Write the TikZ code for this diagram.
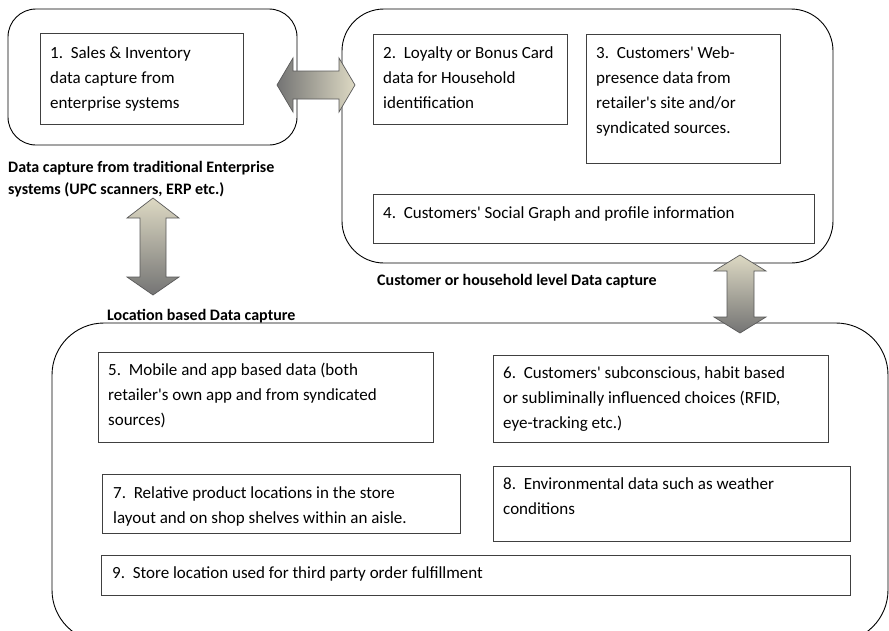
\documentclass[tikz,border=0pt]{standalone}
\usepackage{fontspec}
\setmainfont{Carlito}
\definecolor{beige}{HTML}{DDD9C3}
\definecolor{dgray}{HTML}{747474}
\definecolor{edge}{HTML}{404040}
\newcommand{\mylines}[1]{\parbox[t]{12cm}{\raggedright #1}}
\newcommand{\q}{\textquotesingle}
\begin{document}
\begin{tikzpicture}[x=1pt,y=-1pt,
  outer/.style={draw=black, line width=0.9pt, rounded corners=#1},
  inbox/.style={draw=edge, line width=0.9pt, anchor=north west, inner sep=0pt},
  txt/.style={anchor=base west, inner sep=0pt, font=\fontsize{17}{25}\selectfont},
  lbl/.style={anchor=base west, inner sep=0pt, font=\fontsize{16}{22}\selectfont\bfseries},
  barrow/.style={draw=black!65, line width=0.7pt}]
\useasboundingbox (0,0) rectangle (889,630);
\begin{scope}
\clip (0,0) rectangle (889,630);
% outer groups
\draw[outer=28pt] (8,9) rectangle (297,145);
\draw[outer=42pt] (342,9) rectangle (833,263);
\draw[outer=52pt] (52,323) rectangle (888,642);
\end{scope}
% inner boxes
\node[inbox, minimum width=203pt, minimum height=91pt] (b1) at (40,33) {};
\node[inbox, minimum width=194pt, minimum height=90pt] (b2) at (373,34) {};
\node[inbox, minimum width=194pt, minimum height=129pt] (b3) at (586,34) {};
\node[inbox, minimum width=441pt, minimum height=49pt] (b4) at (373,194) {};
\node[inbox, minimum width=335pt, minimum height=90pt] (b5) at (98,352) {};
\node[inbox, minimum width=335pt, minimum height=87pt] (b6) at (493,355) {};
\node[inbox, minimum width=358pt, minimum height=59pt] (b7) at (102,474) {};
\node[inbox, minimum width=357pt, minimum height=75pt] (b8) at (493,466) {};
\node[inbox, minimum width=749pt, minimum height=40pt] (b9) at (101,555) {};
% texts
\node[txt] (t1) at (50,58) {\mylines{1.~~Sales \& Inventory\\data capture from\\enterprise systems}};
\node[txt] (t2) at (383,58) {\mylines{2.~~Loyalty or Bonus Card\\data for Household\\identification}};
\node[txt] (t3) at (596,58) {\mylines{3.~~Customers\q{} Web-\\presence data from\\retailer\q{}s site and/or\\syndicated sources.}};
\node[txt] (t4) at (383,218) {4.~~Customers\q{} Social Graph and profile information};
\node[txt] (t5) at (108,375) {\mylines{5.~~Mobile and app based data (both\\retailer\q{}s own app and from syndicated\\sources)}};
\node[txt] (t6) at (503,378) {\mylines{6.~~Customers\q{} subconscious, habit based\\or subliminally influenced choices (RFID,\\eye-tracking etc.)}};
\node[txt] (t7) at (113,498) {\mylines{7.~~Relative product locations in the store\\layout and on shop shelves within an aisle.}};
\node[txt] (t8) at (503,489) {\mylines{8.~~Environmental data such as weather\\conditions}};
\node[txt] (t9) at (112,578) {9.~~Store location used for third party order fulfillment};
% group labels
\node[lbl] (l1) at (8,172) {\parbox[t]{12cm}{\raggedright Data capture from traditional Enterprise\\systems (UPC scanners, ERP etc.)}};
\node[lbl] (l2) at (377,285) {Customer or household level Data capture};
\node[lbl] (l3) at (107,320) {Location based Data capture};
% block arrows
\shade[barrow, left color=dgray, right color=beige]
  (277,85) -- (293,58) -- (293,71) -- (339,71) -- (339,58) -- (355,85)
  -- (339,112) -- (339,99) -- (293,99) -- (293,112) -- cycle;
\shade[barrow, top color=beige, bottom color=dgray]
  (153,198) -- (179,218) -- (166,218) -- (166,277) -- (179,277) -- (153,295)
  -- (127,277) -- (140,277) -- (140,218) -- (127,218) -- cycle;
\shade[barrow, top color=beige, bottom color=dgray]
  (740,255) -- (766,271) -- (754,271) -- (754,317) -- (766,317) -- (740,333)
  -- (714,317) -- (727,317) -- (727,271) -- (714,271) -- cycle;
\end{tikzpicture}
\end{document}
